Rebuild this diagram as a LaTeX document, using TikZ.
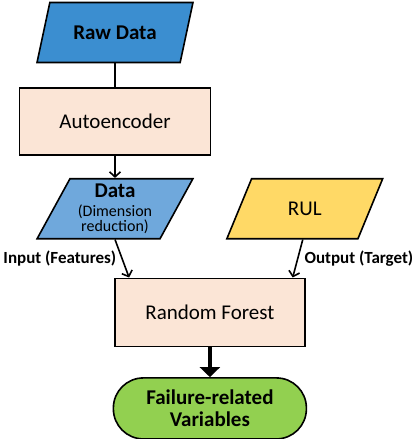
\documentclass[tikz,border=0pt]{standalone}
\usepackage{fontspec}
\setmainfont{Carlito}
\usetikzlibrary{shapes.geometric,arrows.meta,positioning,calc}
\definecolor{rawblue}{HTML}{3B8ED0}
\definecolor{datablue}{HTML}{6FA8DC}
\definecolor{rulyellow}{HTML}{FFD966}
\definecolor{peach}{HTML}{FBE5D6}
\definecolor{leafgreen}{HTML}{92D050}
\newcommand{\tightlines}{\setlength{\lineskiplimit}{-30pt}}

\begin{document}
\begin{tikzpicture}[node distance=24pt and 33pt, every node/.style={font=\fontsize{21}{25}\selectfont},
	inbox/.style={draw, trapezium, trapezium left angle=62, trapezium right angle=118, trapezium stretches=true, minimum width=156pt, minimum height=60pt, line width=1.6pt, inner sep=1pt},
	stepbox/.style={draw, rectangle, fill=peach, minimum width=191pt, minimum height=67pt, line width=1.6pt},
	arr/.style={line width=1.6pt, -{Straight Barb[length=5pt,width=11pt]}},
	lbl/.style={font=\fontsize{17}{20}\selectfont\bfseries, inner sep=0pt}]
			\useasboundingbox (0,0) rectangle (416pt,-439pt);
			\node[inbox, fill=rawblue, font=\fontsize{21}{25}\selectfont\bfseries] (raw) at (115pt,-32.5pt) {Raw Data};
			\node[stepbox, below=24pt of raw] (auto) {Autoencoder};
			\node[inbox, fill=datablue, below=22pt of auto, align=center, font={\fontsize{16}{15.5}\selectfont\tightlines}] (data) {{\fontsize{21}{15.5}\selectfont\bfseries Data}\\[3.5pt](Dimension\\reduction)};
			\node[inbox, fill=rulyellow, right=61pt of data] (rul) {RUL};
			
			\coordinate (mid) at ($(data.south)!0.5!(rul.south)$);
			\node[stepbox, minimum width=190pt, minimum height=68pt, below=38pt of mid] (rf) {Random Forest};
			\node[draw, fill=leafgreen, rounded corners=30pt, minimum width=193pt, minimum height=61pt, line width=1.6pt, align=center, below=30pt of rf, font=\fontsize{21}{22}\selectfont\bfseries] (out) {Failure-related\\Variables};
			
			\draw[line width=1.6pt] (raw.south) -- (auto.north);
			\draw[arr] (auto.south) -- (data.north);
			\draw[arr] (data.south) -- node[lbl, midway, left=5pt] {Input (Features)} ($(rf.north west)+(15pt,0)$);
			\draw[arr] ($(rul.south)+(-2pt,0)$) -- node[lbl, midway, right=6pt] {Output (Target)} ($(rf.north east)+(-13pt,0)$);
			\draw[line width=4.5pt, -{Triangle[length=10pt,width=20pt]}] (rf.south) -- (out.north);
		\end{tikzpicture}
\end{document}
